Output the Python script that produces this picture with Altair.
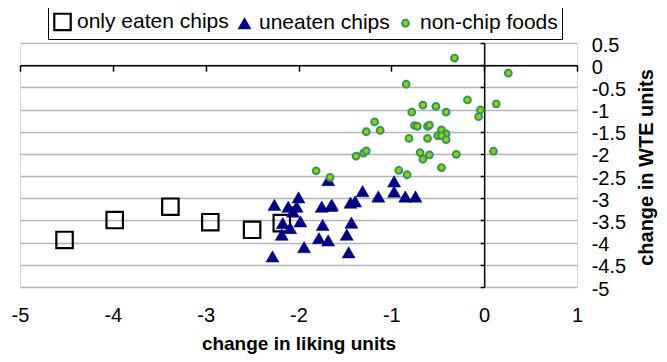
import altair as alt
import pandas as pd

# only eaten chips (squares)
sq_x = [-4.52, -3.98, -3.38, -2.95, -2.50, -2.18]
sq_y = [-3.94, -3.49, -3.19, -3.54, -3.71, -3.56]

# uneaten chips (triangles)
tri_x = [-1.68, -2.26, -2.00, -2.11, -2.02, -2.06, -1.75, -1.65, -2.17, -2.09,
         -1.98, -2.18, -1.74, -1.78, -1.68, -1.94, -2.28, -1.44, -1.39, -1.43,
         -1.48, -1.46, -1.31, -1.14, -0.97, -0.97, -0.85, -0.74, -1.64]
tri_y = [-2.59, -3.15, -2.98, -3.19, -3.19, -3.30, -3.19, -3.17, -3.56, -3.67,
         -3.52, -3.82, -3.60, -3.90, -3.95, -4.10, -4.31, -3.10, -3.07, -3.55,
         -3.82, -4.22, -2.84, -2.96, -2.62, -2.85, -2.96, -2.96, -3.15]

# non-chip foods (circles)
cir_x = [-0.32, 0.26, -0.84, -0.18, 0.13, -0.66, -0.52, -0.78, -0.41, -0.04,
         -0.06, -1.18, -1.27, -1.12, -0.75, -0.72, -0.61, -0.59, -0.46, -0.50,
         -0.41, -0.46, -0.41, -0.81, -0.61, -1.38, -1.30, -1.27, -0.69, -0.59,
         -0.66, -0.30, 0.10, -0.46, -0.92, -0.83, -1.81, -1.66]
cir_y = [0.16, -0.18, -0.43, -0.78, -0.87, -0.90, -0.93, -1.06, -1.06, -1.01,
         -1.16, -1.28, -1.50, -1.47, -1.36, -1.38, -1.38, -1.35, -1.46, -1.59,
         -1.55, -1.59, -1.68, -1.65, -1.65, -2.05, -1.98, -1.93, -1.97, -2.02,
         -2.12, -2.01, -1.94, -2.31, -2.37, -2.47, -2.38, -2.53]

categories = ["only eaten chips", "uneaten chips", "non-chip foods"]
x_ticks = [-5, -4, -3, -2, -1, 0, 1]
y_ticks = [0.5, 0, -0.5, -1, -1.5, -2, -2.5, -3, -3.5, -4, -4.5, -5]

rows = []
for cat, xs, ys in zip(categories, [sq_x, tri_x, cir_x], [sq_y, tri_y, cir_y]):
    for a, b in zip(xs, ys):
        rows.append({"x": a, "y": b, "cat": cat})
df = pd.DataFrame(rows)

W, H = 557, 244
x_off = -(H * 5.0 / 5.5)   # axis line at y = 0
y_off = -(W * 5.0 / 6.0)   # axis line at x = 0

FONT = "Liberation Sans"

legend = alt.Legend(
    title=None, orient="none", direction="horizontal",
    legendX=28, legendY=-36,
    strokeColor="black", padding=4,
    labelFont=FONT, labelFontSize=21, labelColor="black",
    labelOffset=4, columnPadding=5,
)

chart = alt.Chart(df).mark_point(filled=True, opacity=1).encode(
    x=alt.X("x:Q", scale=alt.Scale(domain=[-5, 1], nice=False, zero=False),
            axis=alt.Axis(values=x_ticks, offset=x_off, orient="bottom",
                          domainColor="black", domainWidth=1.5,
                          tickColor="black", tickSize=6, tickWidth=1.5,
                          labelPadding=234, labelFlush=False,
                          labelExpr="toString(datum.value)",
                          labelFont=FONT, labelFontSize=20, labelColor="black",
                          grid=False,
                          title="change in liking units", titleFont=FONT,
                          titleFontSize=19, titleFontWeight="bold", titleColor="black",
                          titleY=269)),
    y=alt.Y("y:Q", scale=alt.Scale(domain=[-5, 0.5], nice=False, zero=False),
            axis=alt.Axis(values=y_ticks, offset=y_off, orient="left",
                          domainColor="black", domainWidth=1.5,
                          tickColor="black", tickSize=4, tickWidth=1.5,
                          labelAlign="left", labelBaseline="middle",
                          labelPadding=-111, labelOffset=2,
                          labelExpr="toString(datum.value)",
                          labelFont=FONT, labelFontSize=20, labelColor="black",
                          grid=True, gridColor="#b4b4b4", gridWidth=1.5,
                          title="change in WTE units", titleFont=FONT,
                          titleFontSize=20, titleFontWeight="bold", titleColor="black",
                          titleAngle=270, titleAlign="center", titleBaseline="middle",
                          titleX=162, titleY=124)),
    shape=alt.Shape("cat:N", scale=alt.Scale(domain=categories,
                    range=["square", "triangle-up", "circle"]), legend=legend),
    fill=alt.Fill("cat:N", scale=alt.Scale(domain=categories,
                  range=["transparent", "#000080", "#a0c814"]), legend=legend),
    stroke=alt.Stroke("cat:N", scale=alt.Scale(domain=categories,
                      range=["black", "#000080", "#2e9a55"]), legend=legend),
    size=alt.Size("cat:N", scale=alt.Scale(type="ordinal", domain=categories,
                  range=[270, 170, 46]), legend=legend),
    strokeWidth=alt.StrokeWidth("cat:N", scale=alt.Scale(type="ordinal", domain=categories,
                                range=[2.2, 0.5, 2]), legend=legend),
).properties(
    width=W, height=H,
    autosize=alt.AutoSizeParams(type="none"),
    padding={"left": 12, "top": 35, "right": 82, "bottom": 67},
).configure_view(
    stroke="black", strokeWidth=1.5
).configure(background="white")

chart.save("out.html", embed_options={"renderer": "svg", "actions": False})
